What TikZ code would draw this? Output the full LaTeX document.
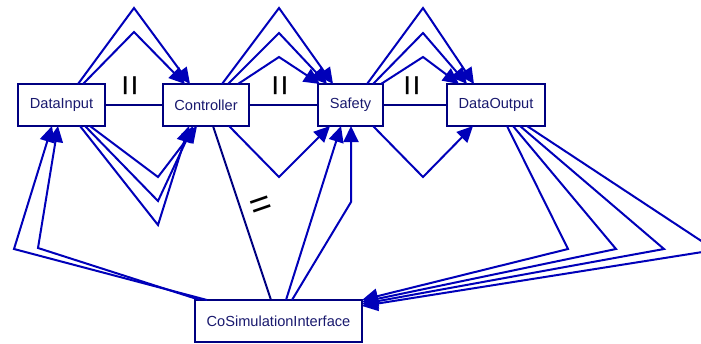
\documentclass[tikz,border=0pt]{standalone}
\usepackage{fontspec}
\setmainfont{Liberation Sans}
\usetikzlibrary{arrows.meta}
\definecolor{edgeblue}{RGB}{0,0,185}
\definecolor{boxnavy}{RGB}{0,0,128}
\definecolor{labelnavy}{RGB}{25,25,110}
\tikzset{
  block/.style={draw=boxnavy, line width=2.2pt, fill=white, minimum height=42pt,
    inner sep=0pt, outer sep=0pt, text=labelnavy, font=\fontsize{14.6}{16}\selectfont},
  flow/.style={draw=edgeblue, line width=2pt, line join=miter,
    -{Triangle[length=16pt,width=15pt]}},
  tie/.style={draw=boxnavy, line width=2pt},
  eqmark/.style={inner sep=0pt, font=\fontsize{37}{37}\selectfont}
}
\begin{document}
\begin{tikzpicture}[x=1pt,y=-1pt]
\useasboundingbox (0,0) rectangle (701,343);
\clip (0,0) rectangle (701,343);

% undirected ties (drawn first, boxes cover their ends)
\draw[tie] (61.5,105) -- (206,105);
\draw[tie] (206,105) -- (350.5,105);
\draw[tie] (350.5,105) -- (496,105);

% components
\node[block, minimum width=87pt] (din) at (61.5,105) {DataInput};
\node[block, minimum width=86pt] (ctrl) at (206,105) {Controller};
\node[block, minimum width=65pt] (saf) at (350.5,105) {Safety};
\node[block, minimum width=98pt] (dout) at (496,105) {DataOutput};
\node[block, minimum width=167pt] (cosim) at (278.5,321) {CoSimulationInterface};

\draw[tie] ([xshift=50pt]ctrl.south west) -- ([xshift=76pt]cosim.north west);

% equality marks on the ties
\node[eqmark, rotate=90] (eq1) at (133,86) {=};
\node[eqmark, rotate=90] (eq2) at (283.5,86) {=};
\node[eqmark, rotate=90] (eq3) at (415,86) {=};
\node[eqmark, rotate=19] (eq4) at (261.5,207.5) {=};

% bends
\coordinate (p1) at (134,8);
\coordinate (p2) at (134,32);
\coordinate (p3) at (279,8);
\coordinate (p4) at (279,33);
\coordinate (p5) at (279,57);
\coordinate (p6) at (423,8);
\coordinate (p7) at (423,33);
\coordinate (p8) at (423,57);
\coordinate (v1) at (158,177);
\coordinate (v2) at (158,201);
\coordinate (v3) at (158,225);
\coordinate (v4) at (279,177);
\coordinate (v5) at (423,177);
\coordinate (w1) at (14,249);
\coordinate (w2) at (38,248);
\coordinate (w3) at (351,202);
\coordinate (r1) at (568,249);
\coordinate (r2) at (616,249);
\coordinate (r3) at (664,249);
\coordinate (r4) at (715,250);

% DataInput -> Controller
\draw[flow] ([xshift=60pt]din.north west) -- (p1) -- ([xshift=27pt]ctrl.north west);
\draw[flow] ([xshift=65pt]din.north west) -- (p2) -- ([xshift=22pt]ctrl.north west);
\draw[flow] ([xshift=72pt]din.south west) -- (v1) -- ([xshift=34pt]ctrl.south west);
\draw[flow] ([xshift=67pt]din.south west) -- (v2) -- ([xshift=30pt]ctrl.south west);
\draw[flow] ([xshift=62pt]din.south west) -- (v3) -- ([xshift=26pt]ctrl.south west);

% Controller -> Safety
\draw[flow] ([xshift=59pt]ctrl.north west) -- (p3) -- ([xshift=15pt]saf.north west);
\draw[flow] ([xshift=65pt]ctrl.north west) -- (p4) -- ([xshift=9pt]saf.north west);
\draw[flow] ([xshift=75pt]ctrl.north west) -- (p5) -- ([xshift=2pt]saf.north west);
\draw[flow] ([xshift=66pt]ctrl.south west) -- (v4) -- ([xshift=12pt]saf.south west);

% Safety -> DataOutput
\draw[flow] ([xshift=49pt]saf.north west) -- (p6) -- ([xshift=27pt]dout.north west);
\draw[flow] ([xshift=55pt]saf.north west) -- (p7) -- ([xshift=20pt]dout.north west);
\draw[flow] ([xshift=63pt]saf.north west) -- (p8) -- ([xshift=12pt]dout.north west);
\draw[flow] ([xshift=55pt]saf.south west) -- (v5) -- ([xshift=26pt]dout.south west);

% CoSimulationInterface -> DataInput
\draw[flow] ([xshift=12pt]cosim.north west) -- (w1) -- ([xshift=34pt]din.south west);
\draw[flow] ([xshift=5pt]cosim.north west) -- (w2) -- ([xshift=40pt]din.south west);

% CoSimulationInterface -> Safety
\draw[flow] ([xshift=91pt]cosim.north west) -- ([xshift=23pt]saf.south west);
\draw[flow] ([xshift=97pt]cosim.north west) -- (w3) -- ([xshift=33pt]saf.south west);

% DataOutput -> CoSimulationInterface
\draw[flow] ([xshift=60pt]dout.south west) -- (r1) -- (cosim.north east);
\draw[flow] ([xshift=66pt]dout.south west) -- (r2) -- ([yshift=-2pt]cosim.north east);
\draw[flow] ([xshift=73pt]dout.south west) -- (r3) -- ([yshift=-4pt]cosim.north east);
\draw[flow] ([xshift=80pt]dout.south west) -- (r4) -- ([yshift=-6pt]cosim.north east);
\end{tikzpicture}
\end{document}
